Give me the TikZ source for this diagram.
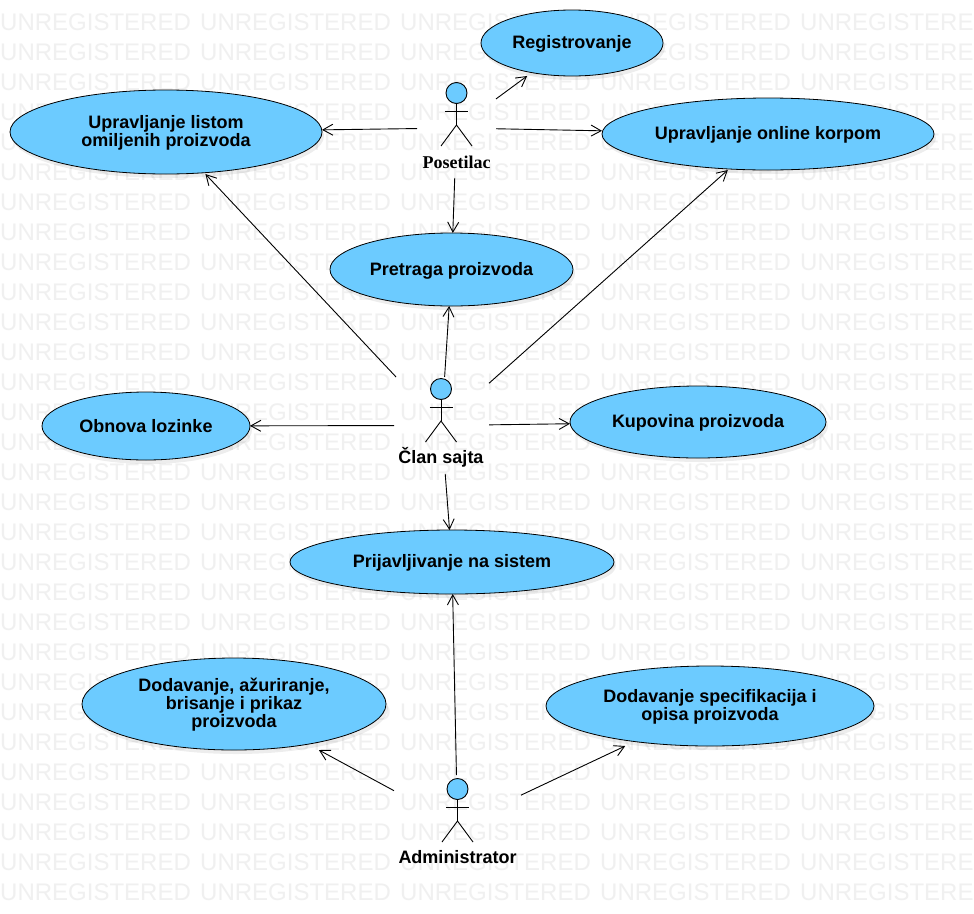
\documentclass[tikz,border=0pt]{standalone}
\usepackage{fontspec}
\setmainfont{Liberation Sans}
\newfontfamily\labelserif{Liberation Serif}
\usetikzlibrary{arrows.meta,shapes.geometric,calc}
\definecolor{ucfill}{HTML}{6CCBFF}
\definecolor{wmark}{HTML}{F0F0F0}
\tikzset{
  ucbody/.style={ellipse,draw=black,fill=ucfill,line width=0.8pt,inner sep=0pt,outer sep=0pt},
  ucbox/.style={rectangle,inner sep=0pt,outer sep=0pt,align=center,font=\fontsize{18}{17.7}\selectfont\bfseries},
  actorbox/.style={rectangle,inner sep=0pt,outer sep=0pt},
  actorlabel/.style={inner sep=0pt,font=\fontsize{18}{18}\selectfont\bfseries},
  limb/.style={draw=black,line width=0.9pt},
  link/.style={draw=black,line width=0.9pt,-{Straight Barb[length=10pt,width=11pt,line width=0.9pt]}},
  wm/.style={inner sep=0pt,anchor=base west,text=wmark,font=\fontsize{24}{24}\selectfont}
}
\newcommand{\ucase}[7]{%
  \fill[black,opacity=0.07] (#2+2,#3+4) ellipse [x radius=#4,y radius=#5];
  \node[ucbody,minimum width=2*#4 pt,minimum height=2*#5 pt] (#1-shape) at (#2,#3) {};
  \node[ucbox,minimum width=2*#4 pt,minimum height=2*#5 pt] (#1) at (#2,#3) {};
  \node[ucbox] (#1-text) at (#2,#3+#6) {#7};
}
\newcommand{\actor}[3]{%
  \coordinate (#1-c) at (#2,#3);
  \draw[limb] ($(#1-c)+(0,10.5)$) -- ($(#1-c)+(0,32)$);
  \draw[limb] ($(#1-c)+(-11.5,18.5)$) -- ($(#1-c)+(11.5,18.5)$);
  \draw[limb] ($(#1-c)+(-15.5,53)$) -- ($(#1-c)+(0,32)$) -- ($(#1-c)+(15.5,53)$);
  \draw[limb,fill=ucfill] (#1-c) circle [radius=10.5];
}
\begin{document}
\begin{tikzpicture}[x=1pt,y=-1pt]
\useasboundingbox (0,0) rectangle (974,913);
\fill[white] (0,0) rectangle (974,913);
\begin{scope}
\clip (0,0) rectangle (974,913);
\foreach \r in {1,...,30}{
  \foreach \c in {0,...,4}{
    \node[wm] (wm-\r-\c) at (200*\c,30*\r) {UNREGISTERED};
  }
}
\end{scope}

\ucase{reg}{572}{43}{91}{33}{0.5}{Registrovanje}
\ucase{list}{166}{132}{156}{42}{0.5}{Upravljanje listom\\omiljenih proizvoda}
\ucase{korpa}{768}{134}{166}{36}{0.5}{Upravljanje online korpom}
\ucase{pret}{451.5}{269.5}{121.5}{36.5}{1}{Pretraga proizvoda}
\ucase{obn}{146}{426}{104}{34}{0.5}{Obnova lozinke}
\ucase{kup}{698}{422}{128}{36}{0.5}{Kupovina proizvoda}
\ucase{prij}{452}{562}{162}{32}{0.5}{Prijavljivanje na sistem}
\ucase{dod}{234}{704}{152}{46}{0.5}{Dodavanje, ažuriranje,\\brisanje i prikaz\\proizvoda}
\ucase{spec}{710}{706}{164}{40}{0.5}{Dodavanje specifikacija i\\opisa proizvoda}

\actor{pos}{456.5}{93}
\actor{clan}{441}{389}
\actor{adm}{457.5}{789}

\node[actorlabel,font=\fontsize{18}{18}\selectfont\bfseries\labelserif] (posl) at (456.5,162) {Posetilac};
\node[actorlabel] (clanl) at (441,457) {Član sajta};
\node[actorlabel] (adml) at (457.5,857) {Administrator};

\node[actorbox,minimum width=79pt,minimum height=100pt] (posb) at (456.5,128) {};
\node[actorbox,minimum width=95pt,minimum height=97pt] (clanb) at (441.5,425.5) {};
\node[actorbox,minimum width=127pt,minimum height=100pt] (admb) at (457.5,825) {};

\draw[link] (posb) -- (reg);
\draw[link] (posb) -- (list);
\draw[link] (posb) -- (korpa);
\draw[link] (posb) -- (pret);
\draw[link] (clanb) -- (list);
\draw[link] (clanb) -- (pret);
\draw[link] (clanb) -- (korpa);
\draw[link] (clanb) -- (obn);
\draw[link] (clanb) -- (kup);
\draw[link] (clanb) -- (prij);
\draw[link] (admb) -- (prij);
\draw[link] (admb) -- (dod);
\draw[link] (admb) -- (spec);
\end{tikzpicture}
\end{document}
